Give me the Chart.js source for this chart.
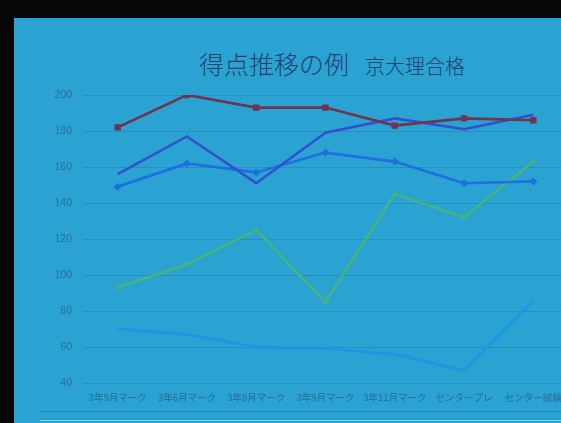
<!DOCTYPE html>
<html>
<head>
<meta charset="utf-8">
<script src="https://cdn.jsdelivr.net/npm/chart.js@4/dist/chart.umd.min.js"></script>
<style>
  html, body { margin: 0; padding: 0; background: #050608; overflow: hidden; }
  #slide {
    position: absolute; left: 14px; top: 18px; width: 560px; height: 420px;
    background: #2aa2d2;
  }
  #title {
    position: absolute; left: 199px; top: 45px; white-space: nowrap;
    font-family: "Noto Sans CJK JP", sans-serif; font-weight: 300; color: #22426e;
  }
  #title .main { font-size: 25px; }
  #title .sub { font-size: 20px; margin-left: 16px; }
  #rule1 { position: absolute; left: 40px; top: 411px; width: 540px; height: 0; border-top: 1px solid rgba(30,110,160,0.4); }
  #rule2 { position: absolute; left: 40px; top: 420px; width: 540px; height: 0; border-top: 1px solid rgba(190,225,245,0.7); }
  #wrap { position: absolute; left: 0; top: 0; width: 600px; height: 423px; }
</style>
</head>
<body>
<div id="slide"></div>
<div id="title"><span class="main">得点推移の例</span><span class="sub">京大理合格</span></div>
<div id="rule1"></div>
<div id="rule2"></div>
<div id="wrap"><canvas id="chart" width="600" height="423"></canvas></div>
<script>
const labels = ['3年5月マーク', '3年6月マーク', '3年8月マーク', '3年9月マーク', '3年11月マーク', 'センタープレ', 'センター試験'];
const seriesA = [182, 200, 193, 193, 183, 187, 186];
const seriesB = [156, 177, 151, 179, 187, 181, 189];
const seriesC = [149, 162, 157, 168, 163, 151, 152];
const seriesD = [93, 106, 125, 85, 145, 132, 163];
const seriesE = [70, 67, 60, 59, 56, 47, 86];
const yTicks = [40, 60, 80, 100, 120, 140, 160, 180, 200];

const FONT = "'Noto Sans CJK JP', sans-serif";

function line(data, color, style, radius) {
  return {
    data,
    borderColor: color,
    backgroundColor: color,
    borderWidth: 2.6,
    pointStyle: style,
    pointRadius: radius,
    pointBorderWidth: 0,
    tension: 0,
    fill: false,
  };
}

new Chart(document.getElementById('chart'), {
  type: 'line',
  data: {
    labels,
    datasets: [
      line(seriesA, '#6e3450', 'rect', 4.5),
      line(seriesB, '#3550cc', 'circle', 0),
      line(seriesC, '#1f6fe0', 'rectRot', 4),
      line(seriesD, '#48b47c', 'triangle', 3.5),
      line(seriesE, '#1a98e8', 'circle', 0),
    ]
  },
  options: {
    responsive: false,
    animation: false,
    layout: { padding: { left: 0, top: 95, right: 32, bottom: 0 } },
    plugins: { legend: { display: false }, tooltip: { enabled: false } },
    scales: {
      x: {
        offset: true,
        grid: { display: false, drawTicks: false },
        border: { display: false },
        ticks: {
          color: '#2a6b98',
          font: { size: 9.5, family: FONT },
          padding: 9,
          maxRotation: 0,
          autoSkip: false,
        },
        afterFit(scale) { scale.height = 40; },
      },
      y: {
        min: 40,
        max: 200,
        afterBuildTicks(scale) { scale.ticks = yTicks.map(v => ({ value: v })); },
        grid: { color: 'rgba(25,110,160,0.35)', lineWidth: 1, drawTicks: false },
        border: { display: false },
        ticks: {
          color: '#2d6f9c',
          font: { size: 10.5, family: "'Liberation Sans', sans-serif" },
          padding: 11,
        },
        afterFit(scale) { scale.width = 83; },
      }
    }
  }
});
</script>
</body>
</html>
